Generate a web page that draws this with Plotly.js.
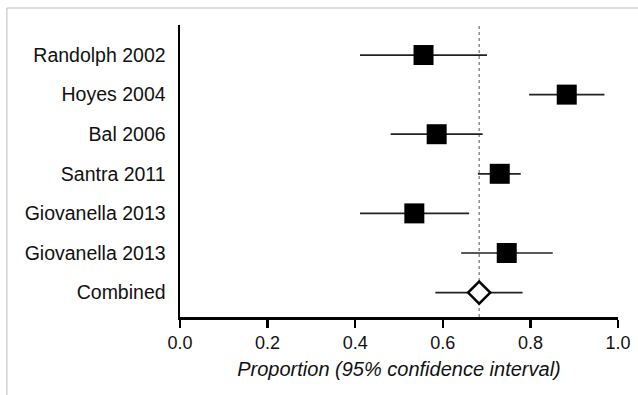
<!DOCTYPE html>
<html>
<head>
<meta charset="utf-8">
<script src="https://cdn.plot.ly/plotly-3.0.1.min.js"></script>
<style>html,body{margin:0;padding:0;background:#fff;}#chart{width:638px;height:395px;}</style>
</head>
<body>
<div id="chart"></div>
<script>
// Data
var studies = ["Randolph 2002", "Hoyes 2004", "Bal 2006", "Santra 2011", "Giovanella 2013", "Giovanella 2013"];
var proportion = [0.556, 0.883, 0.586, 0.730, 0.535, 0.746];
var lowerCI = [0.411, 0.797, 0.481, 0.680, 0.411, 0.642];
var upperCI = [0.701, 0.969, 0.691, 0.778, 0.660, 0.851];
var combinedLabel = "Combined";
var combinedValue = 0.683;
var combinedLower = 0.583;
var combinedUpper = 0.782;
var xTickVals = [0, 0.2, 0.4, 0.6, 0.8, 1.0];
var xTickText = ["0.0", "0.2", "0.4", "0.6", "0.8", "1.0"];
var xTitle = "Proportion (95% confidence interval)";

var n = studies.length;
var rowPos = studies.map(function(_, i){ return n + 1 - i; }); // 7..2
var combinedPos = 1;

var studyTrace = {
  type: "scatter", mode: "markers",
  x: proportion, y: rowPos,
  marker: {symbol: "square", size: 20, color: "#000"},
  error_x: {
    type: "data", symmetric: false,
    array: proportion.map(function(p, i){ return upperCI[i] - p; }),
    arrayminus: proportion.map(function(p, i){ return p - lowerCI[i]; }),
    width: 0, thickness: 1.7, color: "#222"
  },
  hoverinfo: "x+y", showlegend: false, cliponaxis: false
};

var combinedTrace = {
  type: "scatter", mode: "markers",
  x: [combinedValue], y: [combinedPos],
  marker: {symbol: "diamond", size: 17, color: "#fff", line: {color: "#000", width: 2.5}},
  error_x: {
    type: "data", symmetric: false,
    array: [combinedUpper - combinedValue],
    arrayminus: [combinedValue - combinedLower],
    width: 0, thickness: 1.7, color: "#222"
  },
  showlegend: false, cliponaxis: false
};

var tickVals = rowPos.concat([combinedPos]);
var tickText = studies.concat([combinedLabel]);

var plotH = 292, plotW = 437.7;
var layout = {
  width: 638, height: 395,
  margin: {l: 180, r: 20.3, t: 25, b: 78, pad: 0},
  paper_bgcolor: "#fff", plot_bgcolor: "#fff",
  font: {family: "Liberation Sans, Arial, sans-serif", color: "#111"},
  xaxis: {
    range: [0, 1], tickvals: xTickVals, ticktext: xTickText,
    showgrid: false, zeroline: false,
    showline: true, linecolor: "#000", linewidth: 2.5,
    ticks: "outside", ticklen: 8, tickwidth: 2.5, tickcolor: "#000",
    tickfont: {size: 18, color: "#111"},
    title: {text: xTitle, font: {size: 20, color: "#111", style: "italic"}, standoff: 10},
    fixedrange: true
  },
  yaxis: {
    range: [1 - 24.4/39.55, 7 + 30/39.55],
    tickvals: tickVals, ticktext: tickText,
    showgrid: false, zeroline: false,
    showline: true, linecolor: "#000", linewidth: 2.5,
    ticks: "", ticklabelstandoff: 8,
    tickfont: {size: 19.5, color: "#111"},
    fixedrange: true
  },
  shapes: [
    {type: "line", xref: "x", yref: "paper", x0: combinedValue, x1: combinedValue, y0: 0, y1: 1,
     line: {color: "#555", width: 1, dash: "dot"}, layer: "below"},
    {type: "line", xref: "paper", yref: "paper",
     x0: (7 - 180)/plotW, x1: (7 - 180)/plotW, y0: 1 + (25 - 8)/plotH, y1: -0.3,
     line: {color: "#bbb", width: 1}},
    {type: "line", xref: "paper", yref: "paper",
     x0: (7 - 180)/plotW, x1: 1.1, y0: 1 + (25 - 8)/plotH, y1: 1 + (25 - 8)/plotH,
     line: {color: "#bbb", width: 1}}
  ]
};

Plotly.newPlot("chart", [studyTrace, combinedTrace], layout, {displayModeBar: false, staticPlot: true});
</script>
</body>
</html>
